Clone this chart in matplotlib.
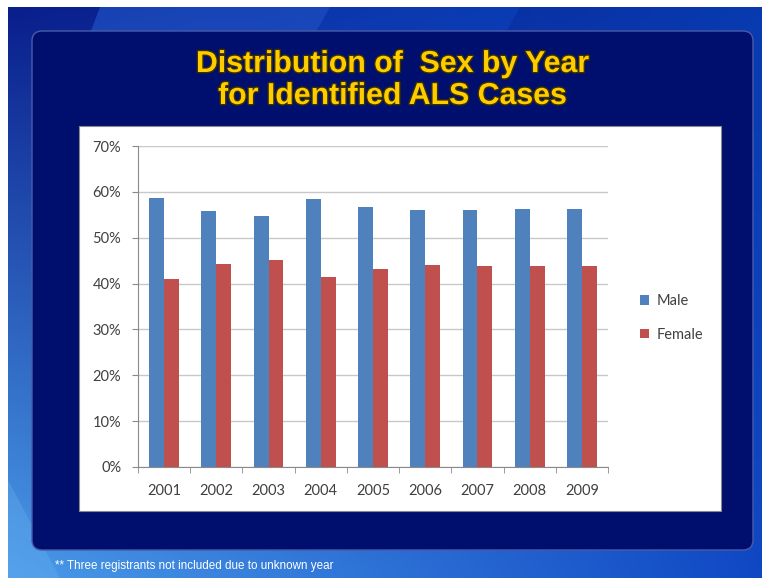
import numpy as np
import matplotlib
matplotlib.use("Agg")
import matplotlib.pyplot as plt
from matplotlib.patches import FancyBboxPatch, Rectangle, Polygon
from matplotlib.ticker import FuncFormatter, FixedLocator
import matplotlib.patheffects as pe
from matplotlib import font_manager

years = ["2001", "2002", "2003", "2004", "2005", "2006", "2007", "2008", "2009"]
male = [0.586, 0.558, 0.547, 0.584, 0.567, 0.560, 0.560, 0.562, 0.563]
female = [0.411, 0.443, 0.452, 0.414, 0.431, 0.441, 0.439, 0.439, 0.438]
series_names = ["Male", "Female"]
y_ticks = [0.0, 0.1, 0.2, 0.3, 0.4, 0.5, 0.6, 0.7]
title_lines = ["Distribution of  Sex by Year", "for Identified ALS Cases"]
footnote = "** Three registrants not included due to unknown year"

W, H = 762, 578
fig = plt.figure(figsize=(W / 100, H / 100), dpi=100)

avail = {f.name for f in font_manager.fontManager.ttflist}
narrow = "Liberation Sans Narrow" if "Liberation Sans Narrow" in avail else "Liberation Sans"
tickfont = "Lato"

# ---- background axes in pixel coordinates
bg = fig.add_axes([0, 0, 1, 1], zorder=0)
bg.set_xlim(0, W)
bg.set_ylim(H, 0)
bg.axis("off")

# gradient background
ny, nx = 60, 80
yy, xx = np.mgrid[0:1:ny * 1j, 0:1:nx * 1j]
tl = np.array([0x0a, 0x1f, 0x8c]) / 255
tr = np.array([0x08, 0x3a, 0xb0]) / 255
bl = np.array([0x4a, 0x9a, 0xe8]) / 255
br = np.array([0x10, 0x48, 0xc4]) / 255
img = (tl[None, None] * ((1 - xx) * (1 - yy))[..., None]
       + tr[None, None] * (xx * (1 - yy))[..., None]
       + bl[None, None] * ((1 - xx) * yy)[..., None]
       + br[None, None] * (xx * yy)[..., None])
bg.imshow(img, extent=[8, W, H, 7], aspect="auto", interpolation="bicubic", zorder=0)
bg.add_patch(Polygon([[100, 7], [330, 7], [300, 60], [80, 60]], closed=True,
                     facecolor="#2a6ae0", alpha=0.45, edgecolor="none", zorder=1))
bg.add_patch(Polygon([[330, 7], [520, 7], [490, 60], [300, 60]], closed=True,
                     facecolor="#1050d0", alpha=0.35, edgecolor="none", zorder=1))
bg.add_patch(Polygon([[8, 480], [60, 578], [8, 578]], closed=True,
                     facecolor="#6ab0f0", alpha=0.35, edgecolor="none", zorder=1))

# navy panel
bg.add_patch(FancyBboxPatch((32, 31), 753 - 32, 550 - 31,
                            boxstyle="round,pad=0,rounding_size=10",
                            facecolor="#000f6e", edgecolor="#4a5aa8",
                            linewidth=1.0, zorder=2))
# white chart box
bg.add_patch(Rectangle((79, 126), 721 - 79, 511 - 126, facecolor="white",
                       edgecolor="#8a8a8a", linewidth=0.8, zorder=3))

# title
for i, line in enumerate(title_lines):
    bg.text(392, 64 + i * 32, line, ha="center", va="center",
            fontsize=21.8, fontweight="bold", family=narrow, color="#ffcc00",
            path_effects=[pe.withStroke(linewidth=2, foreground="#3a3000")],
            zorder=5)

# footnote
bg.text(55, 566, footnote, ha="left", va="center", fontsize=8.4,
        family="Liberation Sans", color="white", zorder=5)

# ---- chart axes
x0, x1, ytop, ybot = 138, 608, 146, 467
ax = fig.add_axes([x0 / W, (H - ybot) / H, (x1 - x0) / W, (ybot - ytop) / H], zorder=2)
ax.patch.set_alpha(0)

x = np.arange(len(years))
bw = 1 / 3.5
b1 = ax.bar(x - bw / 2, male, width=bw, color="#4f81bd", label=series_names[0], zorder=3)
b2 = ax.bar(x + bw / 2, female, width=bw, color="#c0504d", label=series_names[1], zorder=3)

ax.set_xlim(-0.5, len(years) - 0.5)
ax.set_ylim(0, 0.7)
ax.yaxis.set_major_locator(FixedLocator(y_ticks))
ax.yaxis.set_major_formatter(FuncFormatter(lambda v, p: f"{v * 100:.0f}%"))
ax.yaxis.grid(True, color="#c8c8c8", linewidth=1.0, zorder=0)
ax.set_axisbelow(True)

ax.set_xticks(x)
ax.set_xticklabels(years)
ax.set_xticks(np.arange(-0.5, len(years)), minor=True)
ax.tick_params(axis="x", which="major", length=0, pad=12)
ax.tick_params(axis="x", which="minor", length=4, color="#8a8a8a", direction="out")
ax.tick_params(axis="y", which="major", length=4, color="#8a8a8a", direction="out", pad=8)
for lab in ax.get_xticklabels() + ax.get_yticklabels():
    lab.set_family(tickfont)
    lab.set_fontsize(10.5)
    lab.set_color("#404040")

for s in ["top", "right"]:
    ax.spines[s].set_visible(False)
for s in ["left", "bottom"]:
    ax.spines[s].set_color("#8a8a8a")
    ax.spines[s].set_linewidth(0.8)

leg = ax.legend(handles=[b1, b2], labels=series_names, loc="center left",
                bbox_to_anchor=(627 / W, (H - 318) / H), bbox_transform=fig.transFigure,
                frameon=False, handlelength=0.6, handleheight=0.6, handletextpad=0.5,
                labelspacing=1.35, prop={"family": tickfont, "size": 10.5})
for t in leg.get_texts():
    t.set_color("#404040")

fig.savefig("out.png", dpi=100)
